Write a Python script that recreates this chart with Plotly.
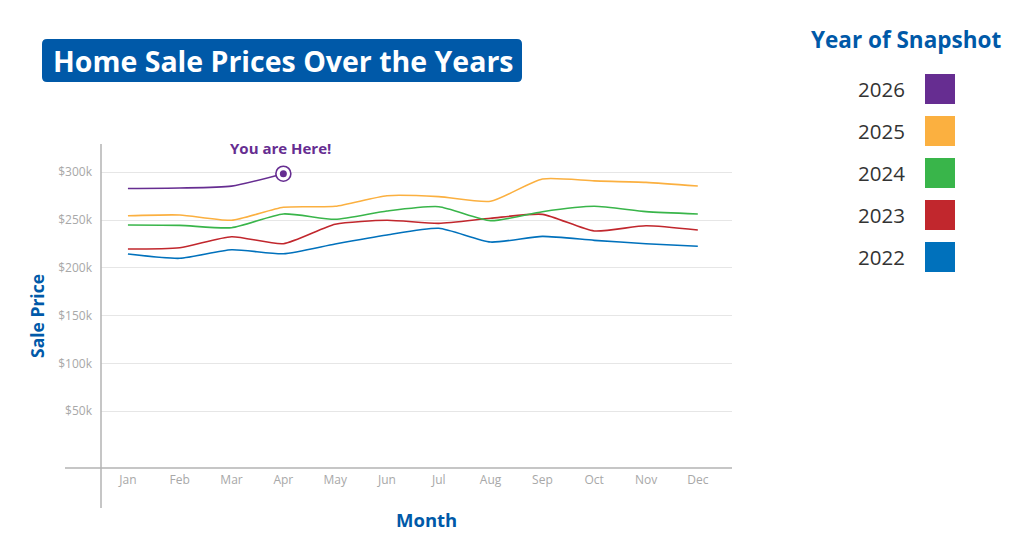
import plotly.graph_objects as go

months = ["Jan", "Feb", "Mar", "Apr", "May", "Jun", "Jul", "Aug", "Sep", "Oct", "Nov", "Dec"]
years = ["2026", "2025", "2024", "2023", "2022"]
colors = ["#662D91", "#FBB040", "#39B54A", "#C1272D", "#0071BC"]

prices_2026 = [283000, 283500, 285500, 298500]
prices_2025 = [254500, 255300, 249800, 263400, 264400, 275500, 274500, 269700, 293000, 291000, 289500, 285700]
prices_2024 = [244900, 244500, 242000, 256400, 250800, 259500, 264000, 249400, 258800, 264400, 258800, 256400]
prices_2023 = [219800, 221100, 232600, 225300, 245600, 249800, 246600, 251900, 256000, 238600, 244100, 239600]
prices_2022 = [214500, 210000, 219000, 214800, 225000, 234400, 241400, 227000, 233000, 228800, 225300, 222600]

series = [prices_2026, prices_2025, prices_2024, prices_2023, prices_2022]
ytick_vals = [50000, 100000, 150000, 200000, 250000, 300000]
ytick_text = ["$50k", "$100k", "$150k", "$200k", "$250k", "$300k"]

W, H = 1024, 550
L, R, T, B = 101, 732, 144, 468


def px(x):
    return (x - L) / (R - L)


def py(y):
    return (B - y) / (B - T)


fig = go.Figure()
# draw older years first so 2026 sits on top
for yr, col, vals in reversed(list(zip(years, colors, series))):
    fig.add_trace(go.Scatter(
        x=months[:len(vals)], y=vals, mode="lines", name=yr,
        line=dict(color=col, width=1.6, shape="spline", smoothing=0.6),
        showlegend=False, hoverinfo="x+y+name",
    ))

# "You are here" marker at the latest 2026 point
fig.add_trace(go.Scatter(
    x=[months[len(prices_2026) - 1]], y=[prices_2026[-1]], mode="markers",
    marker=dict(size=15, color="white", line=dict(color=colors[0], width=1.6)),
    showlegend=False, hoverinfo="skip",
))
fig.add_trace(go.Scatter(
    x=[months[len(prices_2026) - 1]], y=[prices_2026[-1]], mode="markers",
    marker=dict(size=7, color=colors[0]),
    showlegend=False, hoverinfo="skip",
))

shapes = []
annotations = []

# crossed axis lines
shapes.append(dict(type="line", xref="paper", yref="paper", x0=px(101), x1=px(101),
                   y0=py(144), y1=py(508), line=dict(color="#b3b3b3", width=1.5)))
shapes.append(dict(type="line", xref="paper", yref="paper", x0=px(65), x1=px(732),
                   y0=py(468), y1=py(468), line=dict(color="#b3b3b3", width=1.5)))

# title box (rounded)
x0, x1, y0, y1, r = 42, 522, 39, 82, 5
path = (f"M {px(x0 + r)} {py(y0)} L {px(x1 - r)} {py(y0)} "
        f"Q {px(x1)} {py(y0)} {px(x1)} {py(y0 + r)} L {px(x1)} {py(y1 - r)} "
        f"Q {px(x1)} {py(y1)} {px(x1 - r)} {py(y1)} L {px(x0 + r)} {py(y1)} "
        f"Q {px(x0)} {py(y1)} {px(x0)} {py(y1 - r)} L {px(x0)} {py(y0 + r)} "
        f"Q {px(x0)} {py(y0)} {px(x0 + r)} {py(y0)} Z")
shapes.append(dict(type="path", xref="paper", yref="paper", path=path,
                   fillcolor="#0059A8", line=dict(width=0), layer="above"))
annotations.append(dict(text="<b>Home Sale Prices Over the Years</b>", xref="paper", yref="paper",
                        x=px(283), y=py(61), showarrow=False, xanchor="center", yanchor="middle",
                        font=dict(family="Open Sans", size=28.5, color="white")))

# legend
annotations.append(dict(text="<b>Year of Snapshot</b>", xref="paper", yref="paper",
                        x=px(906), y=py(40), showarrow=False, xanchor="center", yanchor="middle",
                        font=dict(family="Open Sans", size=22.5, color="#0059A8")))
for i, (yr, col) in enumerate(zip(years, colors)):
    cy = 89 + 42 * i
    shapes.append(dict(type="rect", xref="paper", yref="paper",
                       x0=px(925), x1=px(955), y0=py(cy - 15), y1=py(cy + 15),
                       fillcolor=col, line=dict(width=0)))
    annotations.append(dict(text=yr, xref="paper", yref="paper", x=px(907), y=py(cy),
                            showarrow=False, xanchor="right", yanchor="middle",
                            font=dict(family="Open Sans", size=20.5, color="#333333")))

# axis titles
annotations.append(dict(text="<b>Sale Price</b>", xref="paper", yref="paper", x=px(37), y=py(316),
                        showarrow=False, textangle=-90, xanchor="center", yanchor="middle",
                        font=dict(family="Open Sans", size=17.5, color="#0059A8")))
annotations.append(dict(text="<b>Month</b>", xref="paper", yref="paper", x=px(426), y=py(519),
                        showarrow=False, xanchor="center", yanchor="middle",
                        font=dict(family="Open Sans", size=18.5, color="#0059A8")))

# "You are Here!" label
annotations.append(dict(text="<b>You are Here!</b>", x=months[len(prices_2026) - 1], y=prices_2026[-1],
                        xref="x", yref="y", showarrow=False, yshift=26, xshift=-3, xanchor="center",
                        font=dict(family="Open Sans", size=15, color=colors[0])))

fig.update_layout(
    width=W, height=H,
    margin=dict(l=L, r=W - R, t=T, b=H - B),
    paper_bgcolor="white", plot_bgcolor="white",
    shapes=shapes, annotations=annotations,
    xaxis=dict(range=[-0.52, 11.66], showgrid=False, zeroline=False, showline=False,
               ticks="", tickfont=dict(family="Open Sans", size=12, color="#a8a8a8"),
               ticklabelstandoff=3, fixedrange=True),
    yaxis=dict(range=[-9400, 329600], tickvals=ytick_vals, ticktext=ytick_text,
               showgrid=True, gridcolor="#e6e6e6", gridwidth=1, zeroline=False, showline=False,
               ticks="", tickfont=dict(family="Open Sans", size=12, color="#a8a8a8"),
               ticklabelstandoff=8, fixedrange=True),
)

fig.write_html("out.html")
